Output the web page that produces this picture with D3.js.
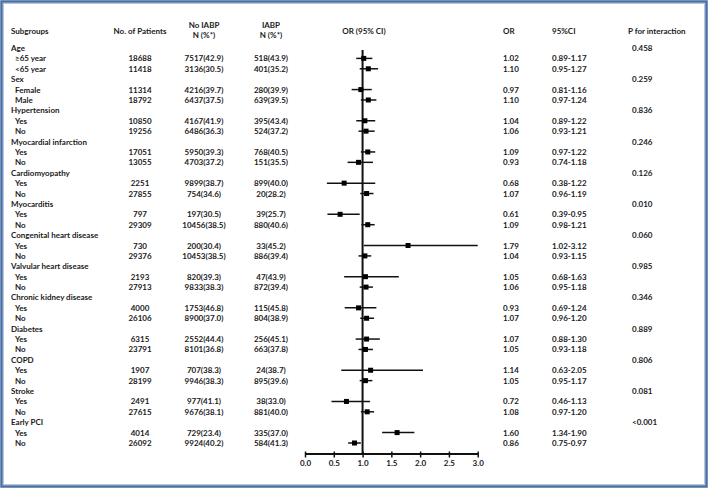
<!DOCTYPE html>
<html><head><meta charset="utf-8">
<script src="https://cdn.jsdelivr.net/npm/d3@7"></script>
<style>
html,body{margin:0;padding:0;background:#fff;}
svg text{font-family:Lato,"Open Sans",sans-serif;font-weight:700;fill:#1a1a1a;}
</style></head>
<body>
<svg id="c" width="709" height="489"></svg>
<script>
const groups = ["Age","Sex","Hypertension","Myocardial infarction","Cardiomyopathy","Myocarditis","Congenital heart disease","Valvular heart disease","Chronic kidney disease","Diabetes","COPD","Stroke","Early PCI"];
const pInteraction = ["0.458","0.259","0.836","0.246","0.126","0.010","0.060","0.985","0.346","0.889","0.806","0.081","<0.001"];
const subgroups = ["≥65 year","<65 year","Female","Male","Yes","No","Yes","No","Yes","No","Yes","No","Yes","No","Yes","No","Yes","No","Yes","No","Yes","No","Yes","No","Yes","No"];
const patients = [18688,11418,11314,18792,10850,19256,17051,13055,2251,27855,797,29309,730,29376,2193,27913,4000,26106,6315,23791,1907,28199,2491,27615,4014,26092];
const noIabp = ["7517(42.9)","3136(30.5)","4216(39.7)","6437(37.5)","4167(41.9)","6486(36.3)","5950(39.3)","4703(37.2)","9899(38.7)","754(34.6)","197(30.5)","10456(38.5)","200(30.4)","10453(38.5)","820(39.3)","9833(38.3)","1753(46.8)","8900(37.0)","2552(44.4)","8101(36.8)","707(38.3)","9946(38.3)","977(41.1)","9676(38.1)","729(23.4)","9924(40.2)"];
const iabp = ["518(43.9)","401(35.2)","280(39.9)","639(39.5)","395(43.4)","524(37.2)","768(40.5)","151(35.5)","899(40.0)","20(28.2)","39(25.7)","880(40.6)","33(45.2)","886(39.4)","47(43.9)","872(39.4)","115(45.8)","804(38.9)","256(45.1)","663(37.8)","24(38.7)","895(39.6)","38(33.0)","881(40.0)","335(37.0)","584(41.3)"];
const orVal = [1.02,1.10,0.97,1.10,1.04,1.06,1.09,0.93,0.68,1.07,0.61,1.09,1.79,1.04,1.05,1.06,0.93,1.07,1.07,1.05,1.14,1.05,0.72,1.08,1.60,0.86];
const ciLow = [0.89,0.95,0.81,0.97,0.89,0.93,0.97,0.74,0.38,0.96,0.39,0.98,1.02,0.93,0.68,0.95,0.69,0.96,0.88,0.93,0.63,0.95,0.46,0.97,1.34,0.75];
const ciHigh = [1.17,1.27,1.16,1.24,1.22,1.21,1.22,1.18,1.22,1.19,0.95,1.21,3.12,1.15,1.63,1.18,1.24,1.20,1.30,1.18,2.05,1.17,1.13,1.20,1.90,0.97];
const axisTicks = [0,0.5,1,1.5,2,2.5,3];

const svg = d3.select("#c");
const FS = 8;

// border
svg.append("rect").attr("x",1.5).attr("y",1.5).attr("width",705).attr("height",485)
  .attr("fill","none").attr("stroke","#4a6fa5").attr("stroke-width",2.5);
svg.append("rect").attr("x",3.5).attr("y",3.5).attr("width",701).attr("height",481)
  .attr("fill","none").attr("stroke","#b7c6dc").attr("stroke-width",1);

// build rows
const rows = [];
groups.forEach((g,gi)=>{
  rows.push({type:"h", label:g, p:pInteraction[gi]});
  for(let k=0;k<2;k++){
    const i = gi*2+k;
    rows.push({type:"s", label:subgroups[i], n:patients[i], a:noIabp[i], b:iabp[i], or:orVal[i], lo:ciLow[i], hi:ciHigh[i]});
  }
});

const y = d3.scalePoint().domain(d3.range(rows.length)).range([48,443]);
const x = d3.scaleLinear().domain([0,3]).range([305,477.7]);

// headers
const hdr = svg.append("g").style("font-size",FS+"px");
function t(g,x0,y0,s,anchor){ return g.append("text").attr("x",x0).attr("y",y0).attr("dominant-baseline","central").attr("text-anchor",anchor||"start").text(s); }
t(hdr,11,31,"Subgroups");
t(hdr,140,31,"No. of Patients","middle");
t(hdr,204,25,"No IABP","middle"); t(hdr,204,34.5,"N (%*)","middle");
t(hdr,271,25,"IABP","middle"); t(hdr,271,34.5,"N (%*)","middle");
t(hdr,364,31,"OR (95% CI)","middle");
t(hdr,503,31,"OR");
t(hdr,552,31,"95%CI");
t(hdr,628,31,"P for interaction");

const body = svg.append("g").style("font-size",FS+"px");
rows.forEach((r,i)=>{
  const yy = y(i);
  if(r.type==="h"){
    t(body,11,yy,r.label);
    t(body,632,yy,r.p);
  } else {
    t(body,15,yy,r.label);
    t(body,140,yy,String(r.n),"middle");
    t(body,204,yy,r.a,"middle");
    t(body,271,yy,r.b,"middle");
    t(body,503,yy,r.or.toFixed(2));
    t(body,552,yy,r.lo.toFixed(2)+"-"+r.hi.toFixed(2));
  }
});

// forest plot
const fp = svg.append("g");
const sub = rows.map((r,i)=>({...r,i})).filter(r=>r.type==="s");
const clamp = v=>Math.max(0,Math.min(3,v));
fp.selectAll("line.ci").data(sub).join("line").attr("class","ci")
  .attr("x1",d=>x(clamp(d.lo))).attr("x2",d=>x(clamp(d.hi)))
  .attr("y1",d=>y(d.i)).attr("y2",d=>y(d.i))
  .attr("stroke","#111").attr("stroke-width",1.5);
// reference line
fp.append("line").attr("x1",x(1)).attr("x2",x(1)).attr("y1",50).attr("y2",453.5)
  .attr("stroke","#111").attr("stroke-width",2);
const ms = 5;
fp.selectAll("rect.m").data(sub).join("rect").attr("class","m")
  .attr("x",d=>x(d.or)-ms/2).attr("y",d=>y(d.i)-ms/2)
  .attr("width",ms).attr("height",ms).attr("fill","#000");

// axis
const ax = svg.append("g").attr("transform","translate(0,453.5)")
  .call(d3.axisBottom(x).tickValues(axisTicks).tickFormat(d3.format(".1f")).tickSize(4).tickSizeOuter(0));
ax.select(".domain").attr("stroke","#111").attr("stroke-width",2);
ax.selectAll(".tick line").attr("stroke","#111").attr("stroke-width",1.5).attr("y1",-2);
ax.selectAll(".tick text").attr("font-family","Lato, sans-serif").attr("font-weight",700)
  .attr("font-size",FS).attr("fill","#1a1a1a").attr("y",7);
</script>
</body></html>
